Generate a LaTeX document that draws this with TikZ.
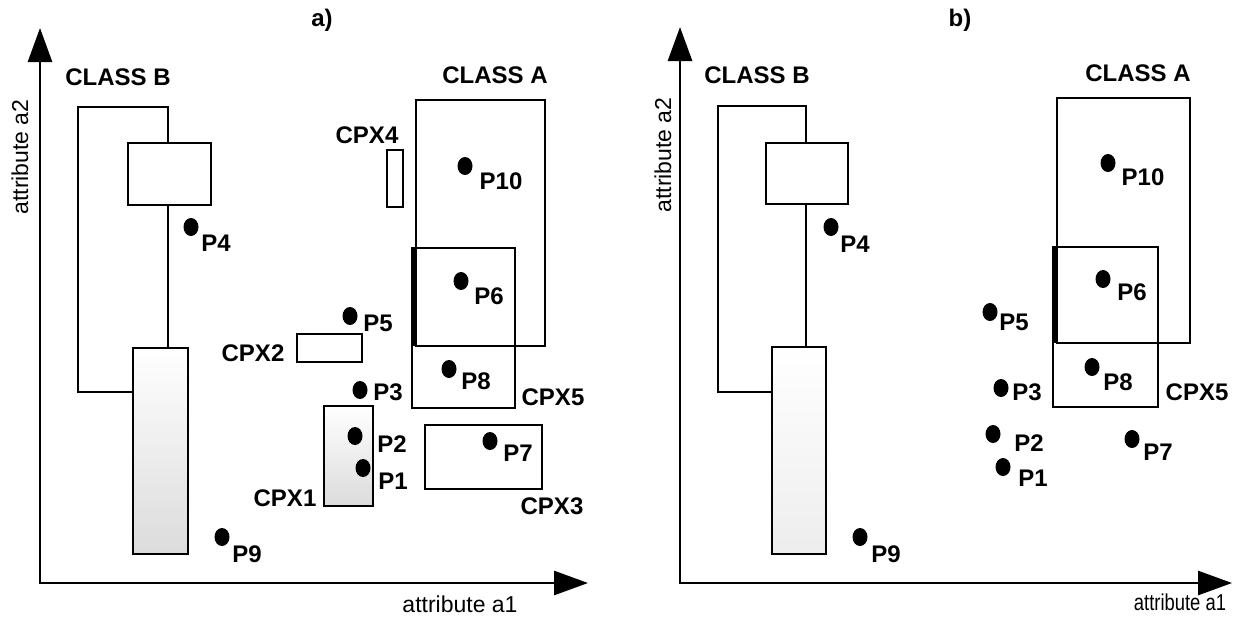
\documentclass[tikz,border=0pt]{standalone}
\usepackage{fontspec}
\setmainfont{Liberation Sans}
\usetikzlibrary{arrows.meta,shapes.geometric}
\begin{document}
\begin{tikzpicture}[x=0.5pt,y=-0.5pt,
  lbl/.style={font=\fontsize{12}{14}\selectfont\bfseries, inner sep=0pt},
  axlbl/.style={font=\fontsize{11.5}{14}\selectfont, inner sep=0pt},
  dot/.style={ellipse, fill=black, draw=none, inner sep=0pt, minimum width=7.5pt, minimum height=9pt},
  box/.style={draw=black, line width=1.3pt},
  thinline/.style={draw=black, line width=1pt},
  overlap/.style={draw=black, line width=2.6pt},
  axes/.style={draw=black, line width=1.4pt, line join=miter, {Triangle[length=17pt,width=12pt]}-{Triangle[length=17pt,width=12pt]}},
  shadeA/.style={top color=white, middle color=white, bottom color=gray!28},
  shadeB/.style={top color=white, middle color=white, bottom color=gray!14},
]
\useasboundingbox (0,0) rectangle (1234,616);

% ================= panel a =================
\coordinate (oa) at (40,583);
\coordinate (ya) at (40,28);
\coordinate (xa) at (588,583);
\draw[axes] (ya) -- (oa) -- (xa);
\node[axlbl, rotate=90] (a2a) at (20,157) {attribute a2};
\node[axlbl] (a1a) at (460,604) {attribute a1};
\node[lbl] (capa) at (322,20) {a)};

% class B
\node[lbl] (cbA) at (118,77) {CLASS B};
\draw[thinline] (168,143) -- (168,107) -- (78,107) -- (78,392) -- (133,392);
\draw[thinline] (168,205) -- (168,348);
\draw[box] (128,143) rectangle (211,205);
\draw[box, shadeA] (133,348) rectangle (188,554);

% class A and complexes
\node[lbl] (caA) at (495,75) {CLASS A};
\draw[box] (416,100) rectangle (545,346);
\draw[box] (412,248) rectangle (515,408);
\draw[overlap] (414,248) -- (414,346);
\draw[box] (387,150) rectangle (403,207);
\draw[box] (297,334) rectangle (362,362);
\draw[box, shadeA] (324,406) rectangle (373,506);
\draw[box] (425,425) rectangle (542,489);

\node[lbl] (cpx1a) at (285,498) {CPX1};
\node[lbl] (cpx2a) at (253,353) {CPX2};
\node[lbl] (cpx3a) at (552,506) {CPX3};
\node[lbl] (cpx4a) at (367,135) {CPX4};
\node[lbl] (cpx5a) at (553,397) {CPX5};

% points
\node[dot] (p1a) at (363,468) {};
\node[dot] (p2a) at (355,436) {};
\node[dot] (p3a) at (360,390) {};
\node[dot] (p4a) at (191,227) {};
\node[dot] (p5a) at (350,316) {};
\node[dot] (p6a) at (461,281) {};
\node[dot] (p7a) at (490,441) {};
\node[dot] (p8a) at (449,369) {};
\node[dot] (p9a) at (222,537) {};
\node[dot] (p10a) at (465,166) {};
\node[lbl] (l1a) at (393,481) {P1};
\node[lbl] (l2a) at (392,444) {P2};
\node[lbl] (l3a) at (388,392) {P3};
\node[lbl] (l4a) at (216,243) {P4};
\node[lbl] (l5a) at (378,323) {P5};
\node[lbl] (l6a) at (489,296) {P6};
\node[lbl] (l7a) at (518,453) {P7};
\node[lbl] (l8a) at (476,381) {P8};
\node[lbl] (l9a) at (247,554) {P9};
\node[lbl] (l10a) at (501,181) {P10};

% ================= panel b =================
\coordinate (ob) at (680,583);
\coordinate (yb) at (680,27);
\coordinate (xb) at (1232,583);
\draw[axes] (yb) -- (ob) -- (xb);
\node[axlbl, rotate=90] (a2b) at (663,155) {attribute a2};
\node[axlbl] (a1b) at (1180,602) {\scalebox{0.8}[1]{attribute a1}};
\node[lbl] (capb) at (960,20) {b)};

\node[lbl] (cbB) at (757,75) {CLASS B};
\draw[thinline] (806,143) -- (806,106) -- (718,106) -- (718,392) -- (772,392);
\draw[thinline] (806,204) -- (806,347);
\draw[box] (766,143) rectangle (848,204);
\draw[box, shadeB] (772,347) rectangle (826,554);

\node[lbl] (caB) at (1138,73) {CLASS A};
\draw[box] (1057,98) rectangle (1190,343);
\draw[box] (1053,247) rectangle (1158,407);
\draw[overlap] (1055,247) -- (1055,343);
\node[lbl] (cpx5b) at (1197,392) {CPX5};

\node[dot] (p1b) at (1003,467) {};
\node[dot] (p2b) at (993,434) {};
\node[dot] (p3b) at (1001,388) {};
\node[dot] (p4b) at (831,227) {};
\node[dot] (p5b) at (990,312) {};
\node[dot] (p6b) at (1103,279) {};
\node[dot] (p7b) at (1132,439) {};
\node[dot] (p8b) at (1092,367) {};
\node[dot] (p9b) at (860,537) {};
\node[dot] (p10b) at (1108,163) {};
\node[lbl] (l1b) at (1033,478) {P1};
\node[lbl] (l2b) at (1029,443) {P2};
\node[lbl] (l3b) at (1027,392) {P3};
\node[lbl] (l4b) at (855,244) {P4};
\node[lbl] (l5b) at (1014,322) {P5};
\node[lbl] (l6b) at (1132,292) {P6};
\node[lbl] (l7b) at (1158,452) {P7};
\node[lbl] (l8b) at (1118,382) {P8};
\node[lbl] (l9b) at (886,554) {P9};
\node[lbl] (l10b) at (1143,177) {P10};
\end{tikzpicture}
\end{document}
